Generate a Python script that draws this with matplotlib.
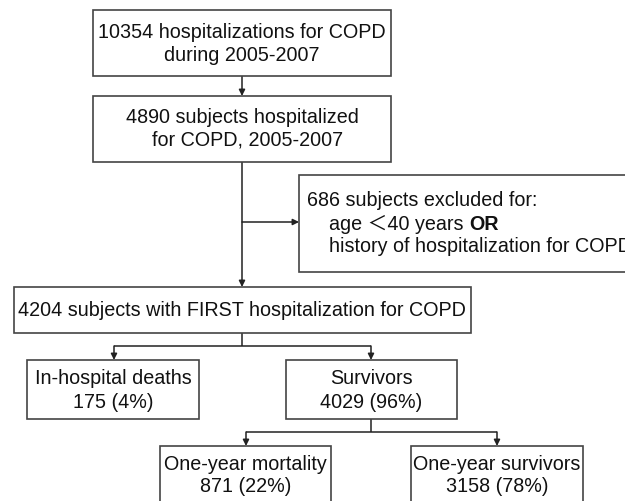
#!/usr/bin/env python3
"""Flow chart of COPD hospitalization cohort selection."""

import matplotlib
matplotlib.use('Agg')
import matplotlib.pyplot as plt
from matplotlib.patches import Rectangle

# --- data -------------------------------------------------------------
total_hosp = 10354
subjects_0507 = 4890
excluded = 686
first_hosp = 4204
inhosp_deaths = 175
survivors = 4029
one_year_deaths = 871
one_year_survivors = 3158
pct_inhosp = [4, 96]          # in-hospital deaths, survivors
pct_one_year = [22, 78]       # mortality, survivors
period = '2005-2007'

# --- style ------------------------------------------------------------
EDGE = '#444444'
LINE = '#222222'
TXT = '#111111'
FS = 14.2
plt.rcParams['font.family'] = ['Liberation Sans', 'Noto Sans CJK SC', 'DejaVu Sans']

fig = plt.figure(figsize=(6.25, 5.01), dpi=100)
ax = fig.add_axes([0, 0, 1, 1])
ax.set_xlim(0, 625)
ax.set_ylim(501, 0)
ax.axis('off')


def box(x0, y0, x1, y1):
    ax.add_patch(Rectangle((x0, y0), x1 - x0, y1 - y0, facecolor='white',
                           edgecolor=EDGE, linewidth=1.2, zorder=2))


def centered(x, ys, lines):
    for y, s in zip(ys, lines):
        ax.text(x, y, s, ha='center', va='center', fontsize=FS, color=TXT, zorder=3)


def arrow(x0, y0, x1, y1):
    ax.annotate('', xy=(x1, y1), xytext=(x0, y0),
                arrowprops=dict(arrowstyle='-|>', color=LINE, lw=1.1,
                                mutation_scale=9, shrinkA=0, shrinkB=0), zorder=1)


def line(xs, ys):
    ax.plot(xs, ys, color=LINE, lw=1.1, zorder=1, solid_capstyle='butt')


# box 1 / box 2
box(93, 10, 391, 76)
centered(242, [32, 55], [f'{total_hosp} hospitalizations for COPD', f'during {period}'])
arrow(242, 76, 242, 96)
box(93, 96, 391, 162)
centered(242, [117, 140], [f'{subjects_0507} subjects hospitalized', f'  for COPD, {period}'])

# main trunk with exclusion branch
arrow(242, 162, 242, 287)
arrow(242, 222, 299, 222)
box(299, 175, 660, 272)
ax.text(307, 201, f'{excluded} subjects excluded for:', ha='left', va='center',
        fontsize=FS, color=TXT, zorder=3)
t_age = ax.text(329, 224, 'age \uff1c40 years ', ha='left', va='center',
                fontsize=FS, color=TXT, zorder=3)
ax.annotate('OR', xy=(1, 0), xycoords=t_age, ha='left', va='bottom',
            fontsize=FS, color=TXT, fontweight='bold', zorder=3)
ax.text(329, 247, 'history of hospitalization for COPD', ha='left', va='center',
        fontsize=FS, color=TXT, zorder=3)

# first hospitalization
box(14, 287, 471, 333)
centered(242, [311], [f'{first_hosp} subjects with FIRST hospitalization for COPD'])
line([242, 242], [333, 346])
line([114, 371], [346, 346])
arrow(114, 346, 114, 360)
arrow(371, 346, 371, 360)

box(27, 360, 199, 419)
centered(113, [378, 402], ['In-hospital deaths', f'{inhosp_deaths} ({pct_inhosp[0]}%)'])
box(286, 360, 457, 419)
centered(371.5, [378, 402], ['Survivors', f'{survivors} ({pct_inhosp[1]}%)'])

# one-year outcome
line([371, 371], [419, 432])
line([246, 497], [432, 432])
arrow(246, 432, 246, 446)
arrow(497, 432, 497, 446)

box(160, 446, 331, 515)
centered(245.5, [464, 487], ['One-year mortality', f'{one_year_deaths} ({pct_one_year[0]}%)'])
box(411, 446, 583, 515)
centered(497, [464, 487], ['One-year survivors', f'{one_year_survivors} ({pct_one_year[1]}%)'])

fig.savefig('out.png', dpi=100)
